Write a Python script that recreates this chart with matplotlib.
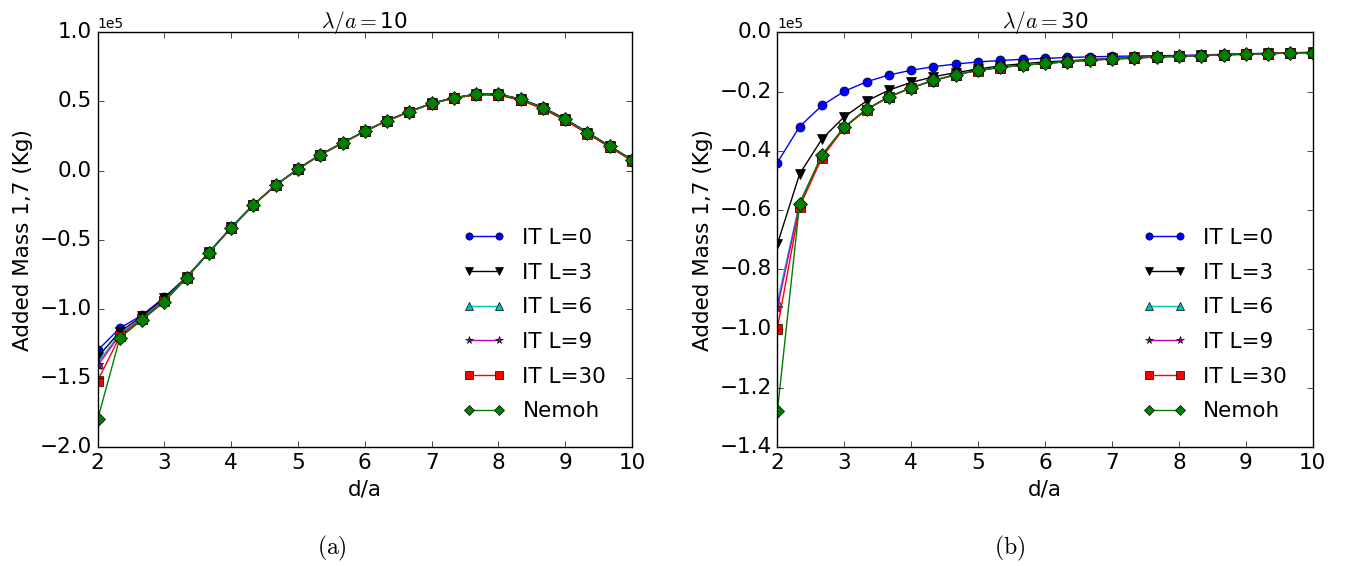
import numpy as np
import matplotlib
matplotlib.use("Agg")
import matplotlib.pyplot as plt

plt.style.use('classic')
plt.rcParams['figure.facecolor'] = 'white'
plt.rcParams['savefig.facecolor'] = 'white'
plt.rcParams['mathtext.fontset'] = 'cm'
plt.rcParams['font.family'] = ['DejaVu Sans']

d_over_a = [2.0, 2.333, 2.667, 3.0, 3.333, 3.667, 4.0, 4.333, 4.667, 5.0, 5.333, 5.667,
            6.0, 6.333, 6.667, 7.0, 7.333, 7.667, 8.0, 8.333, 8.667, 9.0, 9.333, 9.667, 10.0]

series_labels = ["IT L=0", "IT L=3", "IT L=6", "IT L=9", "IT L=30", "Nemoh"]

# (a) lambda/a = 10, values in units of 1e5 Kg
a_L0 = [-1.30, -1.14, -1.045, -0.917, -0.768, -0.590, -0.410, -0.246, -0.104, 0.013, 0.116, 0.201,
        0.286, 0.362, 0.427, 0.487, 0.527, 0.553, 0.553, 0.518, 0.457, 0.373, 0.277, 0.178, 0.079]
a_L3 = [-1.35, -1.165, -1.055, -0.925, -0.771, -0.591, -0.411, -0.247, -0.105, 0.012, 0.115, 0.200,
        0.285, 0.361, 0.426, 0.486, 0.526, 0.552, 0.552, 0.516, 0.455, 0.371, 0.275, 0.176, 0.077]
a_L6 = [-1.39, -1.18, -1.065, -0.935, -0.773, -0.592, -0.412, -0.248, -0.106, 0.011, 0.114, 0.199,
        0.284, 0.360, 0.425, 0.485, 0.524, 0.549, 0.548, 0.511, 0.449, 0.365, 0.269, 0.171, 0.073]
a_L9 = [-1.41, -1.19, -1.07, -0.940, -0.774, -0.593, -0.412, -0.248, -0.106, 0.011, 0.114, 0.199,
        0.284, 0.360, 0.425, 0.485, 0.524, 0.549, 0.547, 0.510, 0.448, 0.364, 0.268, 0.170, 0.072]
a_L30 = [-1.52, -1.20, -1.075, -0.945, -0.775, -0.594, -0.413, -0.249, -0.107, 0.010, 0.113, 0.198,
         0.283, 0.359, 0.424, 0.484, 0.523, 0.548, 0.546, 0.509, 0.447, 0.363, 0.267, 0.169, 0.071]
a_nemoh = [-1.80, -1.21, -1.08, -0.949, -0.775, -0.594, -0.414, -0.250, -0.105, 0.011, 0.114, 0.200,
           0.285, 0.362, 0.427, 0.486, 0.526, 0.552, 0.552, 0.516, 0.455, 0.371, 0.275, 0.176, 0.077]

# (b) lambda/a = 30
b_L0 = [-0.440, -0.318, -0.247, -0.199, -0.167, -0.144, -0.128, -0.116, -0.107, -0.100, -0.095, -0.091,
        -0.088, -0.085, -0.083, -0.081, -0.080, -0.079, -0.078, -0.0765, -0.074, -0.072, -0.071, -0.069, -0.0675]
b_L3 = [-0.715, -0.478, -0.360, -0.285, -0.232, -0.195, -0.169, -0.150, -0.136, -0.124, -0.113, -0.106,
        -0.100, -0.096, -0.092, -0.088, -0.085, -0.082, -0.080, -0.078, -0.075, -0.073, -0.071, -0.069, -0.068]
b_L6 = [-0.910, -0.575, -0.416, -0.320, -0.260, -0.218, -0.187, -0.162, -0.143, -0.128, -0.118, -0.111,
        -0.105, -0.099, -0.094, -0.090, -0.087, -0.083, -0.081, -0.079, -0.076, -0.074, -0.072, -0.070, -0.0688]
b_L9 = [-0.930, -0.580, -0.418, -0.321, -0.260, -0.218, -0.187, -0.162, -0.143, -0.128, -0.118, -0.111,
        -0.105, -0.099, -0.094, -0.090, -0.087, -0.083, -0.081, -0.079, -0.076, -0.074, -0.072, -0.070, -0.0689]
b_L30 = [-1.000, -0.589, -0.423, -0.322, -0.261, -0.219, -0.188, -0.163, -0.144, -0.129, -0.119, -0.111,
         -0.105, -0.099, -0.094, -0.090, -0.087, -0.083, -0.081, -0.079, -0.076, -0.074, -0.072, -0.070, -0.069]
b_nemoh = [-1.280, -0.578, -0.413, -0.319, -0.259, -0.217, -0.187, -0.162, -0.143, -0.128, -0.118, -0.111,
           -0.105, -0.099, -0.094, -0.090, -0.087, -0.083, -0.081, -0.079, -0.076, -0.074, -0.072, -0.070, -0.0686]

styles = [('b', 'o'), ('k', 'v'), ('c', '^'), ('m', '*'), ('r', 's'), ('g', 'D')]
scale = 1e5

fig = plt.figure(figsize=(13.47, 5.66), dpi=100)
ax1 = fig.add_axes([0.0725, 0.2102, 0.3967, 0.7327])
ax2 = fig.add_axes([0.5771, 0.2102, 0.3975, 0.7327])

FS = 15.5

def draw(ax, data, title, ylim, yticks):
    x = np.array(d_over_a)
    for (c, m), y, lab in zip(styles, data, series_labels):
        ms = 7 if m in ('*', 'D') else 6.5
        ax.plot(x, np.array(y) * scale, color=c, marker=m, markersize=ms, lw=1.0, label=lab)
    ax.set_xlim(2, 10)
    ax.set_ylim(ylim[0] * scale, ylim[1] * scale)
    ax.set_yticks(np.array(yticks) * scale)
    ax.set_xticks(range(2, 11))
    ax.ticklabel_format(style='sci', axis='y', scilimits=(0, 0))
    ax.tick_params(labelsize=FS)
    ax.yaxis.get_offset_text().set_fontsize(10)
    ax.set_xlabel("d/a", fontsize=FS)
    ax.set_ylabel("Added Mass 1,7 (Kg)", fontsize=FS)
    ax.set_title(title, fontsize=FS, pad=3)
    ax.legend(loc='lower right', frameon=False, fontsize=FS, numpoints=2,
              labelspacing=0.68, handlelength=2.0, handletextpad=0.8,
              borderaxespad=0.8, markerscale=0.8)

draw(ax1, [a_L0, a_L3, a_L6, a_L9, a_L30, a_nemoh], r'$\lambda/a=$10', (-2.0, 1.0),
     [-2.0, -1.5, -1.0, -0.5, 0.0, 0.5, 1.0])
draw(ax2, [b_L0, b_L3, b_L6, b_L9, b_L30, b_nemoh], r'$\lambda/a=$30', (-1.4, 0.0),
     [-1.4, -1.2, -1.0, -0.8, -0.6, -0.4, -0.2, 0.0])

fig.text(332 / 1347, 1 - 548 / 566, r'$\mathrm{(a)}$', ha='center', va='center', fontsize=17)
fig.text(1010 / 1347, 1 - 548 / 566, r'$\mathrm{(b)}$', ha='center', va='center', fontsize=17)

fig.savefig("out.png", dpi=100, facecolor='white')
